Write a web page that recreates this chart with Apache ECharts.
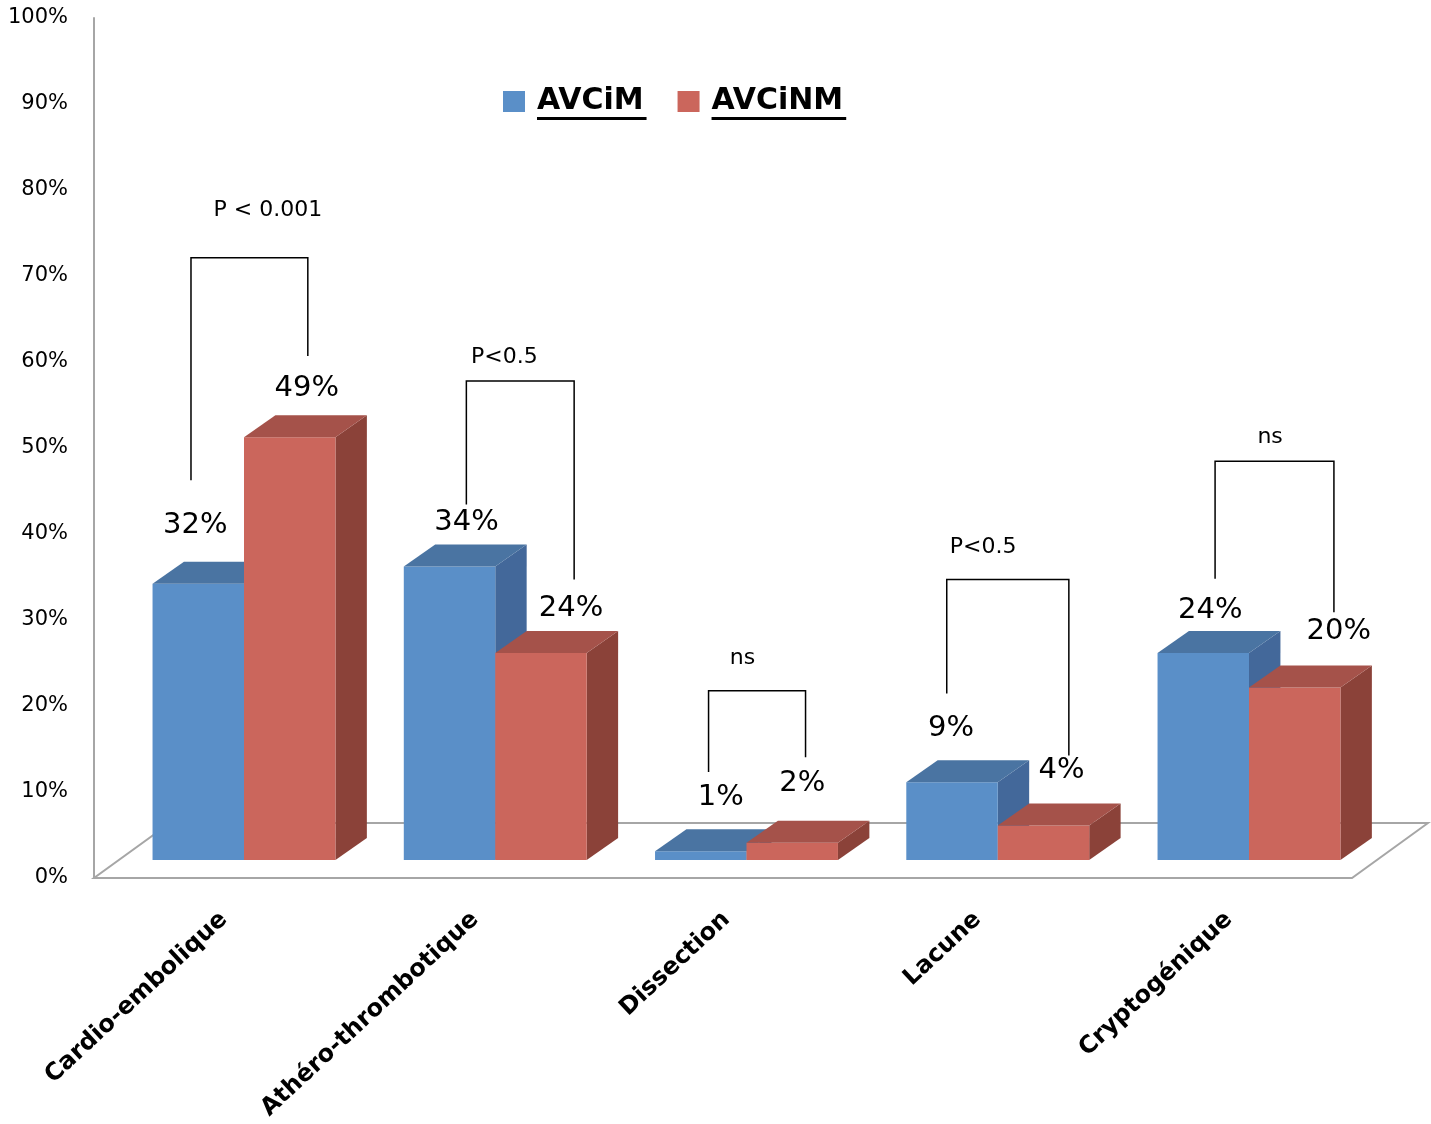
<!DOCTYPE html>
<html>
<head>
<meta charset="utf-8">
<script src="https://cdn.jsdelivr.net/npm/echarts@6/dist/echarts.min.js"></script>
<style>
html,body{margin:0;padding:0;background:#ffffff;}
#chart{width:1431px;height:1124px;}
</style>
</head>
<body>
<div id="chart"></div>
<script>
// ---------------- data ----------------
const categories = ['Cardio-embolique', 'Athéro-thrombotique', 'Dissection', 'Lacune', 'Cryptogénique'];
const seriesNames = ['AVCiM', 'AVCiNM'];
const avcimValues = [32, 34, 1, 9, 24];
const avcinmValues = [49, 24, 2, 4, 20];
const yTickValues = [0, 10, 20, 30, 40, 50, 60, 70, 80, 90, 100];

// significance annotations (text + bracket levels in % of the bar axis)
const pValueTexts = ['P < 0.001', 'P<0.5', 'ns', 'P<0.5', 'ns'];
const bracketTopLevel = [69.8, 55.5, 19.6, 32.5, 46.2];
const bracketLegLowLevel = [[44.0, 58.4], [41.2, 32.5], [10.2, 11.9], [19.3, 12.1], [32.6, 28.7]];
const pTextLevel = [75.3, 58.2, 23.4, 36.2, 49.0];

// ---------------- layout / style (not data) ----------------
const FONT = '"DejaVu Sans", "Liberation Sans", sans-serif';
const COLORS = {
  blue: {front: '#5A8FC8', top: '#4A74A2', side: '#43689A'},
  red:  {front: '#CB665C', top: '#A5524A', side: '#8B4239'}
};
const BAR_FRAC = 0.364;      // bar width as fraction of category band
const DEPTH_DX_FRAC = 0.125; // 3D depth (x) as fraction of band
const DEPTH_DY = -22;        // 3D depth (y) in px
// bracket leg x and p-text x as fractions of the band, relative to category centre
const bracketLegX = [[-0.211, 0.254], [-0.115, 0.314], [-0.151, 0.235], [-0.203, 0.283], [-0.135, 0.338]];
const pTextX = [0.095, 0.036, -0.016, -0.058, 0.084];
// value-label nudges (px): x from the centre of the bar front, y from the back-top edge
const labelNudge = [
  [[-3, -36], [17, -22], [20, -32], [-1, -32], [7, -20]],
  [[17, -27], [30, -22], [10, -37], [18, -33], [44, -34]]
];

const chart = echarts.init(document.getElementById('chart'), null, {renderer: 'canvas'});

function makeBarRenderer(sIdx, colors, values) {
  return function (params, api) {
    const i = api.value(0);
    const v = api.value(1);
    const base = api.coord([i, 0]);
    const topPt = api.coord([i, v]);
    const band = api.size([1, 0])[0];
    const w = band * BAR_FRAC;
    const dx = band * DEPTH_DX_FRAC;
    const dy = DEPTH_DY;
    const x0 = sIdx === 0 ? base[0] - w : base[0];
    const x1 = x0 + w;
    const yb = base[1];
    const yt = topPt[1];
    const nudge = labelNudge[sIdx][i];
    return {
      type: 'group',
      children: [
        {type: 'polygon', shape: {points: [[x1, yt], [x1 + dx, yt + dy], [x1 + dx, yb + dy], [x1, yb]]},
          style: {fill: colors.side}},
        {type: 'rect', shape: {x: x0, y: yt, width: w, height: yb - yt},
          style: {fill: colors.front}},
        {type: 'polygon', shape: {points: [[x0, yt], [x1, yt], [x1 + dx, yt + dy], [x0 + dx, yt + dy]]},
          style: {fill: colors.top}},
        {type: 'text', z2: 10, style: {
          text: values[i] + '%', x: x0 + w / 2 + nudge[0], y: yt + dy + nudge[1],
          align: 'center', verticalAlign: 'middle', fill: '#000', font: '29px ' + FONT}}
      ]
    };
  };
}

function renderFloor(params, api) {
  const cs = params.coordSys;
  const fx = 76, fy = -55;
  const xl = cs.x, xr = cs.x + cs.width, yf = cs.y + cs.height;
  return {
    type: 'polygon',
    shape: {points: [[xl, yf], [xr, yf], [xr + fx, yf + fy], [xl + fx, yf + fy]]},
    style: {fill: '#ffffff', stroke: '#A6A6A6', lineWidth: 2}
  };
}

function renderAnnotation(params, api) {
  const i = api.value(0);
  const c = api.coord([i, 0]);
  const band = api.size([1, 0])[0];
  const lx = c[0] + bracketLegX[i][0] * band;
  const rx = c[0] + bracketLegX[i][1] * band;
  const yTop = api.coord([i, bracketTopLevel[i]])[1];
  const yL = api.coord([i, bracketLegLowLevel[i][0]])[1];
  const yR = api.coord([i, bracketLegLowLevel[i][1]])[1];
  const ty = api.coord([i, pTextLevel[i]])[1];
  return {
    type: 'group',
    children: [
      {type: 'polyline', shape: {points: [[lx, yL], [lx, yTop], [rx, yTop], [rx, yR]]},
        style: {stroke: '#000', lineWidth: 1.5, fill: null}},
      {type: 'text', style: {text: pValueTexts[i], x: c[0] + pTextX[i] * band, y: ty,
        align: 'center', verticalAlign: 'middle', fill: '#000', font: '22px ' + FONT}}
    ]
  };
}

const LEGEND_GAP = 34;
const option = {
  animation: false,
  backgroundColor: '#ffffff',
  textStyle: {fontFamily: FONT},
  grid: [
    // bar plane (3D-projected baseline)
    {left: 118.375, right: 56.375, top: 83.3, bottom: 264},
    // visible value axis + floor
    {left: 94, right: 79, top: 18, bottom: 246},
    // category labels
    {left: 98.4, right: 76.35, top: 18, bottom: 247}
  ],
  xAxis: [
    {gridIndex: 0, type: 'category', data: categories, show: false},
    {gridIndex: 1, type: 'category', data: categories, show: false},
    {gridIndex: 2, type: 'category', data: categories,
      axisLine: {show: false}, axisTick: {show: false},
      axisLabel: {rotate: 43, margin: 39, fontSize: 24, fontWeight: 'bold', color: '#000', fontFamily: FONT, interval: 0}}
  ],
  yAxis: [
    {gridIndex: 0, type: 'value', min: 0, max: 90, show: false},
    {gridIndex: 1, type: 'value', min: yTickValues[0], max: yTickValues[yTickValues.length - 1],
      interval: yTickValues[1] - yTickValues[0],
      axisLine: {show: true, lineStyle: {color: '#A6A6A6', width: 2}},
      axisTick: {show: false}, splitLine: {show: false},
      axisLabel: {formatter: '{value}%', margin: 26, fontSize: 21, color: '#000', fontFamily: FONT}},
    {gridIndex: 2, type: 'value', min: 0, max: 100, show: false}
  ],
  legend: {
    data: seriesNames,
    left: 503, top: 83, padding: 0,
    icon: 'rect', itemWidth: 22, itemHeight: 21, itemGap: LEGEND_GAP,
    textStyle: {fontSize: 30, fontWeight: 'bold', color: '#000', fontFamily: FONT, padding: [7, 0, 0, 7], lineHeight: 30}
  },
  series: [
    {type: 'custom', name: 'floor', xAxisIndex: 1, yAxisIndex: 1, z: 1, silent: true,
      data: [[0, 0]], renderItem: renderFloor},
    {type: 'custom', name: seriesNames[0], xAxisIndex: 0, yAxisIndex: 0, z: 3,
      itemStyle: {color: COLORS.blue.front},
      data: avcimValues.map((v, i) => [i, v]),
      renderItem: makeBarRenderer(0, COLORS.blue, avcimValues)},
    {type: 'custom', name: seriesNames[1], xAxisIndex: 0, yAxisIndex: 0, z: 4,
      itemStyle: {color: COLORS.red.front},
      data: avcinmValues.map((v, i) => [i, v]),
      renderItem: makeBarRenderer(1, COLORS.red, avcinmValues)},
    {type: 'custom', name: 'annotations', xAxisIndex: 0, yAxisIndex: 0, z: 5, silent: true,
      data: categories.map((c, i) => [i]),
      renderItem: renderAnnotation}
  ]
};
chart.setOption(option);

// underline legend texts (measured widths)
(function () {
  const ctx = document.createElement('canvas').getContext('2d');
  ctx.font = 'bold 30px ' + FONT;
  const w0 = ctx.measureText(seriesNames[0]).width;
  const w1 = ctx.measureText(seriesNames[1]).width;
  const t0 = 503 + 22 + 5 + 7;
  const t1 = t0 + w0 + LEGEND_GAP + 22 + 5 + 7;
  chart.setOption({
    graphic: [
      {type: 'rect', shape: {x: t0, y: 117, width: w0 + 3, height: 3}, style: {fill: '#000'}},
      {type: 'rect', shape: {x: t1, y: 117, width: w1 + 3, height: 3}, style: {fill: '#000'}}
    ]
  });
})();
</script>
</body>
</html>
